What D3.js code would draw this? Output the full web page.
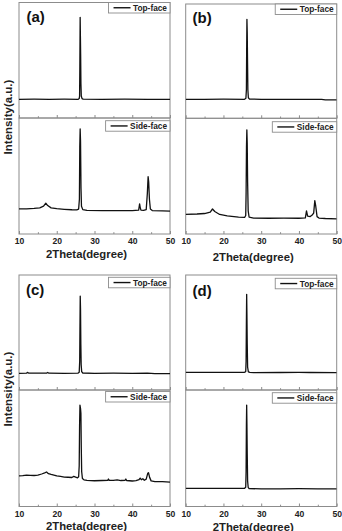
<!DOCTYPE html>
<html>
<head>
<meta charset="utf-8">
<script src="https://cdn.jsdelivr.net/npm/d3@7"></script>
<style>
  html, body { margin: 0; padding: 0; background: #fff; }
  svg { display: block; font-family: "Liberation Sans", Arial, sans-serif; font-weight: bold; }
</style>
</head>
<body>
<div id="chart"></div>
<script>
// --- --- Data (intensities in a.u. on a 0-100 scale) --- ---

var panelLabels = ["(a)", "(b)", "(c)", "(d)"];
var legendLabels = ["Top-face", "Side-face"];
var xTicks = [10, 20, 30, 40, 50];
var xMinorTicks = [15, 25, 35, 45];
var xTitle = "2Theta(degree)";
var yTitle = "Intensity(a.u.)";

// [2theta, intensity]
var aTop = [[10,16.2],[14,16.3],[18,16.2],[22,16.3],[25.7,16.2],[25.95,16.8],[26.05,19],[26.12,45],[26.2,87.2],[26.27,70],[26.33,55],[26.4,30],[26.5,19],[26.7,16.8],[27,16.3],[32,16.2],[38,16.3],[44,16.2],[50,16.2]];
var aSide = [[10,21.6],[12,21.7],[14,22.1],[15.5,22.6],[16.5,24],[17.1,26.5],[17.6,24.5],[18.5,22.5],[20,21.8],[22,21.3],[24,20.9],[25.3,20.8],[25.8,21.5],[26.0,30],[26.1,75],[26.2,90.5],[26.3,80],[26.42,40],[26.55,24],[26.9,21],[28,20.3],[32,20.1],[36,20.2],[38,20.1],[40,20.2],[41.7,20.5],[41.95,25.9],[42.1,23],[42.3,20.6],[43,20.3],[43.7,21],[44.0,35],[44.2,49.4],[44.35,45],[44.55,30],[44.8,21.5],[45.3,20.2],[48,20],[50,19.8]];

var bTop = [[10,16.6],[15,16.6],[20,16.7],[25.6,16.6],[25.95,17.5],[26.08,25],[26.15,60],[26.22,86.6],[26.3,75],[26.38,50],[26.47,25],[26.6,18],[26.9,16.8],[30,16.6],[40,16.6],[46,16.6],[47,16.2],[50,16.2]];
var bSide = [[10,17.0],[13,17.3],[15,17.7],[16.5,19.0],[17.1,21.6],[17.7,19.4],[19,16.9],[21,15.6],[24,14.5],[25.6,14.3],[25.9,16],[26.0,35],[26.1,75],[26.2,90],[26.3,78],[26.4,45],[26.55,20],[26.8,14.5],[28,13.8],[32,13.6],[36,13.7],[40,13.6],[41.7,14],[42,19.9],[42.3,15.5],[43,15.1],[43.5,16.4],[43.9,18],[44.2,28.8],[44.45,24],[44.8,15],[45.3,13.8],[47,13.4],[50,13]];

var cTop = [[10,14.5],[12,14.7],[12.3,15.3],[12.6,14.6],[17.3,14.6],[17.6,15.2],[17.9,14.6],[22,14.5],[25.6,14.6],[25.95,15.5],[26.08,25],[26.15,55],[26.22,81.7],[26.3,70],[26.38,40],[26.47,22],[26.6,16],[26.9,14.8],[30,14.5],[35,14.6],[40,14.5],[44,14.6],[46,14.2],[50,14.2]];
var cSide = [[10,26.2],[11,26.5],[12,27],[13,26.8],[14,26.6],[15,26.9],[16,27.9],[16.8,28.8],[17.3,29.6],[17.8,28.2],[18.5,27.5],[19.5,26.8],[20,26.2],[21,25.8],[22,25.3],[23,25.1],[24,24.9],[24.5,25.8],[25,25.2],[25.5,24.6],[25.8,25.5],[25.95,35],[26.05,70],[26.15,87.1],[26.3,84],[26.4,80],[26.5,50],[26.6,30],[26.8,24],[27.2,22.9],[28,22.5],[30,22.1],[32,22.3],[33.5,22.4],[33.7,23.6],[33.9,22.4],[35,22.5],[36,22.8],[37,22.3],[38.1,22.5],[38.3,23.6],[38.5,22.3],[40,21.9],[41,22.2],[41.8,23],[42.1,24.4],[42.4,23],[42.8,23.8],[43.2,22.5],[43.7,23.5],[44.1,28.5],[44.3,29],[44.6,25],[45,22],[46,21.4],[48,21.3],[50,21]];

var dTop = [[10,15.4],[20,15.4],[25.6,15.4],[25.9,16],[26.0,25],[26.08,60],[26.15,83.2],[26.22,65],[26.3,40],[26.4,20],[26.6,15.8],[27,15.4],[28,15.1],[35,15.2],[40,15.3],[43,15.2],[50,15.1]];
var dSide = [[10,15.6],[20,15.6],[25.6,15.6],[25.9,16.5],[26.0,30],[26.08,70],[26.15,87.1],[26.22,70],[26.3,45],[26.4,22],[26.55,16.5],[26.8,15.4],[30,15.1],[35,15.2],[40,15.3],[45,15.1],[50,15.2]];

var topSeries = [aTop, bTop, cTop, dTop];
var sideSeries = [aSide, bSide, cSide, dSide];

// --- --- Layout (pixels) --- ---
var width = 342;
var height = 531;

var layout = [
  {left: 19,    right: 170,   top: 2.5, mid: 118,   bottom: 234,   labelX: 26.5,  labelY: 21.7, titleY: 258,   legTop: [0, 2.7]},
  {left: 185.7, right: 336.7, top: 4,   mid: 118.3, bottom: 234,   labelX: 192.5, labelY: 23.3, titleY: 260.5, legTop: [0, 3.4]},
  {left: 19,    right: 170,   top: 275, mid: 390,   bottom: 506.5, labelX: 26,    labelY: 295,  titleY: 529.5, legTop: [2.3, 1.5]},
  {left: 185.7, right: 336.7, top: 275, mid: 390,   bottom: 506.5, labelX: 192.5, labelY: 296,  titleY: 530.5, legTop: [3.3, 2.7]}
];

var frameColor = "#8c8c8c";
var lineColor = "#111";

var svg = d3.select("#chart").append("svg")
  .attr("width", width).attr("height", height)
  .attr("viewBox", [0, 0, width, height]);

layout.forEach(function(p, i){
  var g = svg.append("g");
  var x = d3.scaleLinear().domain([10, 50]).range([p.left, p.right]);

  var subplots = [
    {data: topSeries[i], y0: p.mid, y1: p.top, legend: legendLabels[0], legTop: p.legTop[0], labels: false},
    {data: sideSeries[i], y0: p.bottom, y1: p.mid, legend: legendLabels[1], legTop: p.legTop[1], labels: true}
  ];

  subplots.forEach(function(s, j){
    var y = d3.scaleLinear().domain([0, 100]).range([s.y0, s.y1]);
    var clipId = "clip" + i + "_" + j;
    g.append("clipPath").attr("id", clipId)
      .append("rect")
      .attr("x", p.left).attr("y", s.y1)
      .attr("width", p.right - p.left).attr("height", s.y0 - s.y1);

    // frame
    g.append("rect")
      .attr("x", p.left).attr("y", s.y1)
      .attr("width", p.right - p.left).attr("height", s.y0 - s.y1)
      .attr("fill", "none").attr("stroke", frameColor).attr("stroke-width", 1);

    // inward ticks on the bottom edge
    var major = g.append("g")
      .attr("transform", "translate(0," + s.y0 + ")")
      .call(d3.axisBottom(x).tickValues(xTicks).tickSizeInner(-3).tickSizeOuter(0).tickPadding(4)
        .tickFormat(s.labels ? d3.format("d") : ""));
    major.select(".domain").remove();
    major.selectAll("line").attr("stroke", frameColor);
    major.selectAll("text").attr("fill", "#222").attr("font-size", 8.6)
      .attr("font-family", "'Liberation Sans', Arial, sans-serif").attr("font-weight", "bold");

    var minor = g.append("g")
      .attr("transform", "translate(0," + s.y0 + ")")
      .call(d3.axisBottom(x).tickValues(xMinorTicks).tickSizeInner(-1.8).tickSizeOuter(0).tickFormat(""));
    minor.select(".domain").remove();
    minor.selectAll("line").attr("stroke", frameColor);

    // the trace
    var line = d3.line().x(function(d){ return x(d[0]); }).y(function(d){ return y(d[1]); });
    g.append("path")
      .datum(s.data)
      .attr("clip-path", "url(#" + clipId + ")")
      .attr("d", line)
      .attr("fill", "none").attr("stroke", lineColor).attr("stroke-width", 1.3)
      .attr("stroke-linejoin", "round");

    // legend box, right aligned to the frame
    var leg = g.append("g");
    var legBox = leg.append("rect");
    var legText = leg.append("text")
      .text(s.legend)
      .attr("font-size", 8.3).attr("fill", "#222");
    var tw = legText.node().getComputedTextLength();
    var boxW = 5 + 17 + 2.5 + tw + 3;
    var boxH = 10.5;
    var bx = p.right - boxW;
    var by = s.y1 + s.legTop;
    legBox.attr("x", bx).attr("y", by).attr("width", boxW).attr("height", boxH)
      .attr("fill", "#fff").attr("stroke", frameColor).attr("stroke-width", 0.9);
    leg.append("line")
      .attr("x1", bx + 5).attr("x2", bx + 22)
      .attr("y1", by + boxH / 2).attr("y2", by + boxH / 2)
      .attr("stroke", lineColor).attr("stroke-width", 1.4);
    legText.attr("x", bx + 24.5).attr("y", by + boxH / 2 + 3);
  });

  // panel letter
  g.append("text")
    .attr("x", p.labelX).attr("y", p.labelY)
    .attr("font-size", 15).attr("fill", "#111")
    .text(panelLabels[i]);

  // x title
  g.append("text")
    .attr("x", (p.left + p.right) / 2 - 8).attr("y", p.titleY)
    .attr("text-anchor", "middle")
    .attr("font-size", 11.3).attr("fill", "#222")
    .text(xTitle);

  // y title only on the left column
  if (i % 2 === 0){
    g.append("text")
      .attr("transform", "translate(12," + (p.mid - 1) + ") rotate(-90)")
      .attr("text-anchor", "middle")
      .attr("font-size", 11.5).attr("fill", "#222")
      .text(yTitle);
  }
});
</script>
</body>
</html>
